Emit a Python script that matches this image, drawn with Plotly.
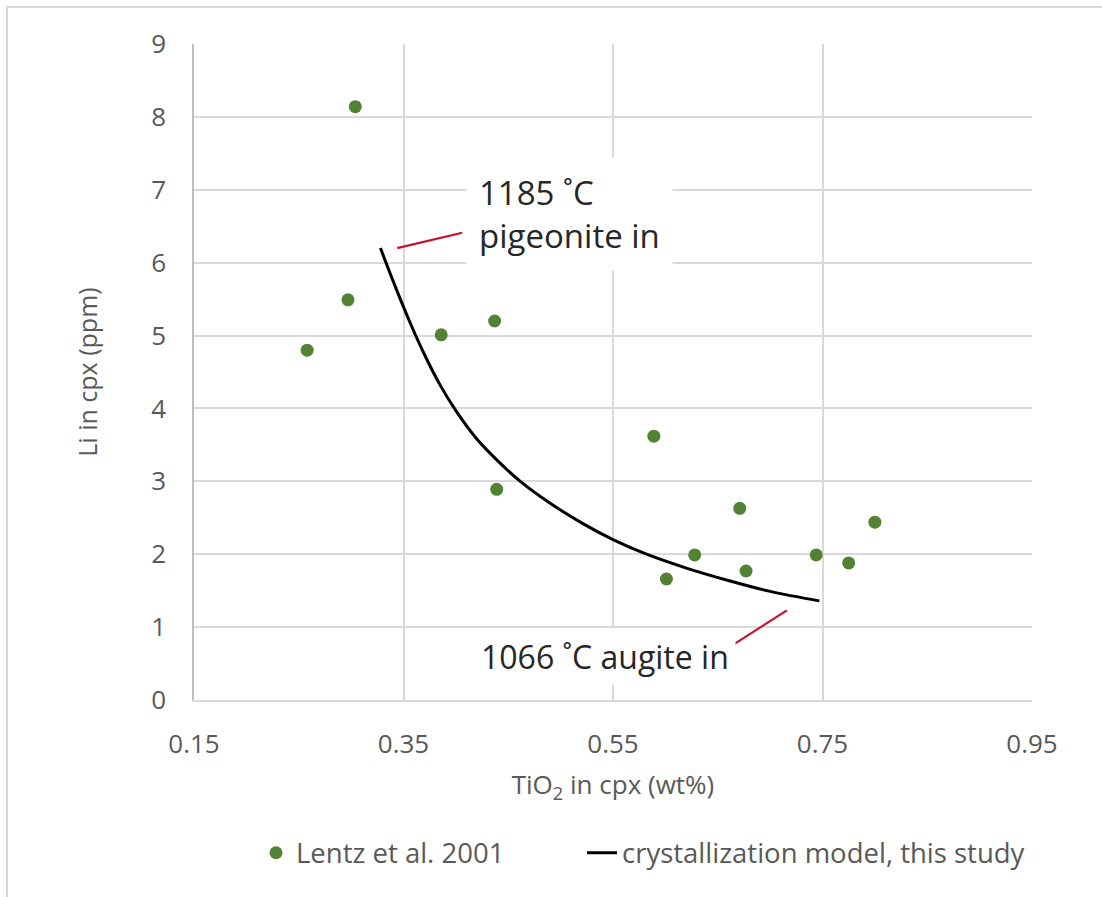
import plotly.graph_objects as go

# ---- data ----
lentz_tio2 = [0.304, 0.258, 0.297, 0.386, 0.437, 0.439, 0.589, 0.601, 0.628, 0.671, 0.677, 0.744, 0.775, 0.800]
lentz_li   = [8.14, 4.80, 5.49, 5.01, 5.20, 2.89, 3.62, 1.66, 1.99, 2.63, 1.77, 1.99, 1.88, 2.44]

model_tio2 = [0.328, 0.340, 0.355, 0.370, 0.385, 0.400, 0.420, 0.440, 0.4615,
              0.490, 0.520, 0.550, 0.582, 0.620, 0.660, 0.700, 0.747]
model_li   = [6.20, 5.75, 5.22, 4.74, 4.32, 3.97, 3.58, 3.28, 3.00,
              2.70, 2.43, 2.20, 2.00, 1.81, 1.64, 1.49, 1.36]

x_ticks = [0.15, 0.35, 0.55, 0.75, 0.95]
y_ticks = [0, 1, 2, 3, 4, 5, 6, 7, 8, 9]

# label connectors (data coords)
pig_line_x = [0.344, 0.406]
pig_line_y = [6.20, 6.41]
aug_line_x = [0.666, 0.716]
aug_line_y = [0.77, 1.23]

pig_label = "1185 ˚C<br>pigeonite in"
aug_label = "1066 ˚C augite in"
pig_pos = (0.508, 6.67)
aug_pos = (0.542, 0.60)

FONT = "Open Sans"
GRID = "#D9D9D9"
TXT = "#595959"

fig = go.Figure()
fig.add_trace(go.Scatter(
    x=lentz_tio2, y=lentz_li, mode="markers", name="Lentz et al. 2001",
    marker=dict(color="#548235", size=13, line=dict(width=0)), legend="legend",
))
fig.add_trace(go.Scatter(
    x=model_tio2, y=model_li, mode="lines", name="crystallization model, this study",
    line=dict(color="#000000", width=3, shape="spline", smoothing=1.0), legend="legend2",
))

# red connector lines
for xs, ys in [(pig_line_x, pig_line_y), (aug_line_x, aug_line_y)]:
    fig.add_shape(type="line", xref="x", yref="y", x0=xs[0], y0=ys[0], x1=xs[1], y1=ys[1],
                  line=dict(color="#C8102E", width=2.2))

# outer chart frame
fig.add_shape(type="rect", xref="paper", yref="paper",
              x0=(7 - 194) / 838, x1=(1110 - 194) / 838,
              y0=(700 - 910) / 656, y1=(700 - 7) / 656,
              line=dict(color="#D9D9D9", width=2), fillcolor="rgba(0,0,0,0)", layer="below")

fig.add_annotation(x=pig_pos[0], y=pig_pos[1], xref="x", yref="y", text=pig_label,
                   showarrow=False, align="left", bgcolor="white", borderpad=12,
                   font=dict(family=FONT, size=33, color="#262626"))
fig.add_annotation(x=aug_pos[0], y=aug_pos[1], xref="x", yref="y", text=aug_label,
                   showarrow=False, align="left", bgcolor="white", borderpad=6,
                   font=dict(family=FONT, size=32, color="#262626"))

leg_font = dict(family=FONT, size=27.5, color=TXT)
fig.update_layout(
    width=1102, height=897,
    margin=dict(l=194, r=70, t=44, b=197),
    paper_bgcolor="white", plot_bgcolor="white",
    font=dict(family=FONT, size=26, color=TXT),
    showlegend=True,
    legend=dict(orientation="h", x=0.074, xanchor="left", y=-0.233, yanchor="middle",
                font=leg_font, bgcolor="rgba(0,0,0,0)"),
    legend2=dict(orientation="h", x=0.463, xanchor="left", y=-0.233, yanchor="middle",
                 font=leg_font, bgcolor="rgba(0,0,0,0)"),
    xaxis=dict(range=[0.15, 0.95], tickvals=x_ticks, ticktext=[f"{v:.2f}" for v in x_ticks],
               showgrid=True, gridcolor=GRID, gridwidth=1.5, zeroline=False,
               showline=True, linecolor=GRID, linewidth=2, ticks="", ticklabelstandoff=20,
               tickfont=dict(family=FONT, size=26, color=TXT),
               title=dict(text="TiO<sub>2</sub> in cpx (wt%)", standoff=16,
                          font=dict(family=FONT, size=26, color=TXT))),
    yaxis=dict(range=[0, 9], tickvals=y_ticks,
               showgrid=True, gridcolor=GRID, gridwidth=1.5, zeroline=False,
               showline=True, linecolor="#BFBFBF", linewidth=1.5, ticks="", ticklabelstandoff=21,
               tickfont=dict(family=FONT, size=26, color=TXT),
               title=dict(text="Li in cpx (ppm)", standoff=46,
                          font=dict(family=FONT, size=25, color=TXT))),
)

fig.write_html("out.html", config={"displayModeBar": False},
               post_script="document.body.style.margin='0';")
